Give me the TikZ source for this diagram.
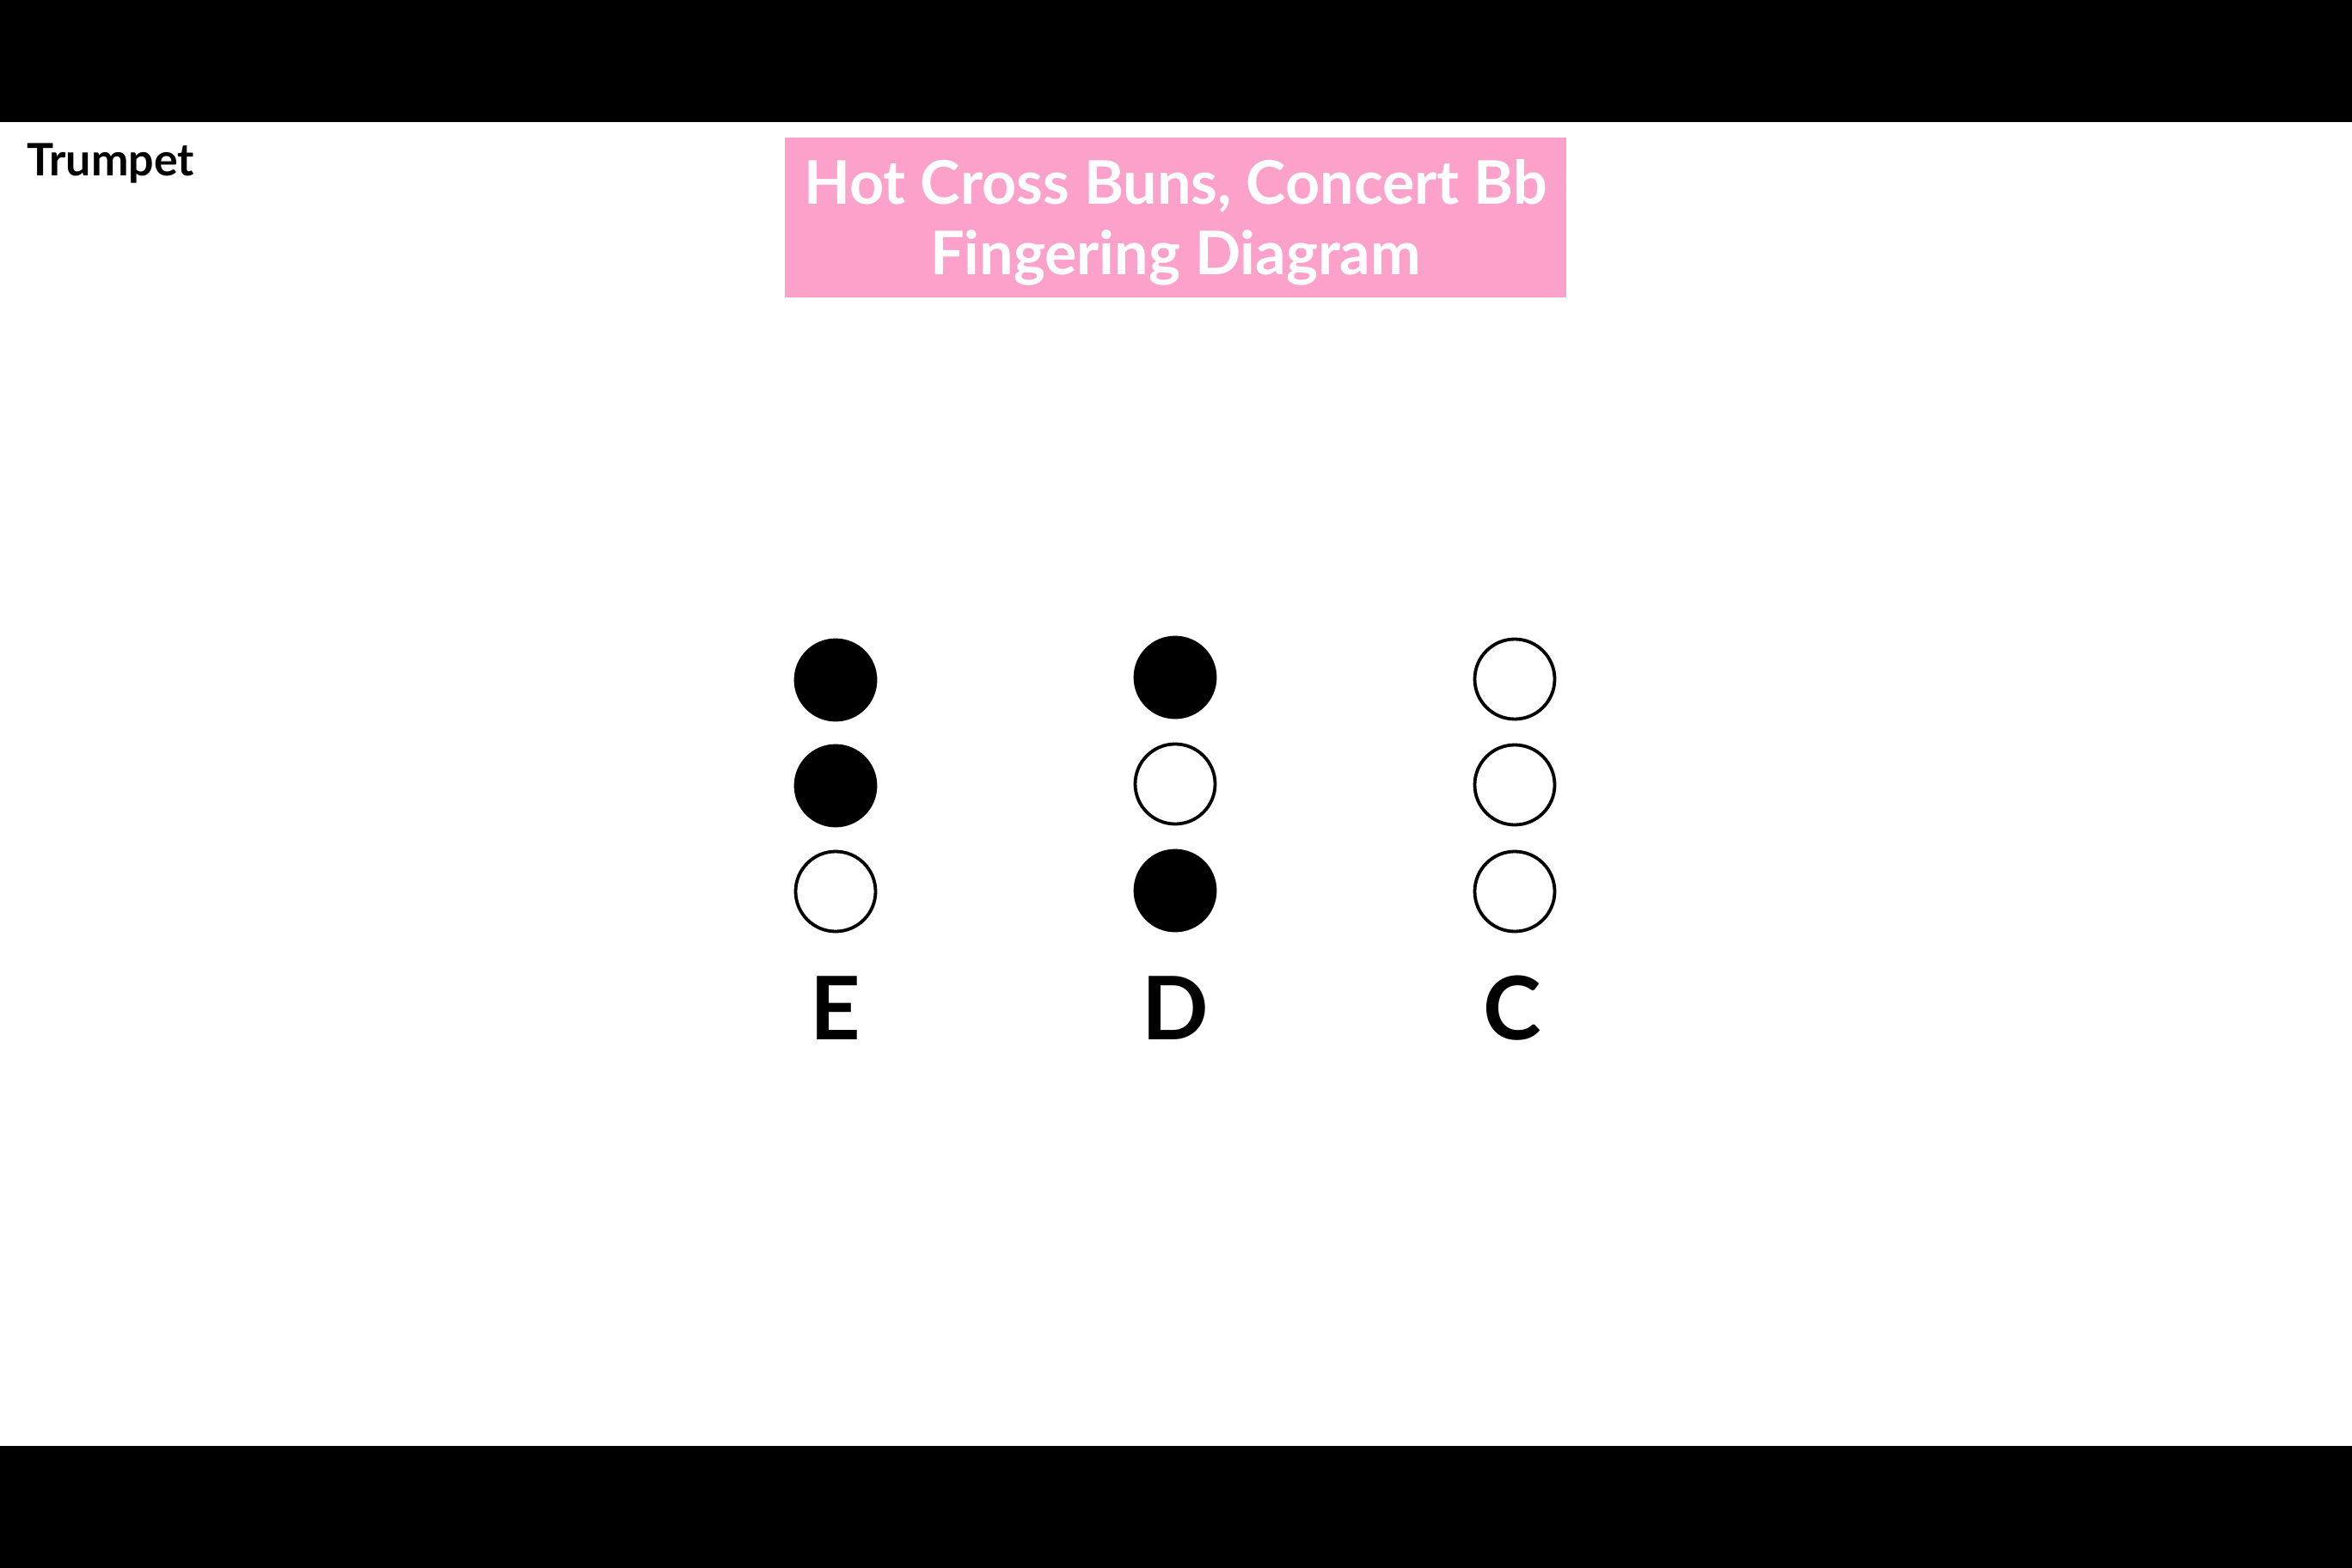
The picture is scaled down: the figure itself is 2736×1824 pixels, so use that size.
\documentclass[tikz,border=0pt]{standalone}
\usepackage{fontspec}
\setmainfont{Lato}
\definecolor{pinkbox}{RGB}{252,161,201}
\begin{document}
\begin{tikzpicture}[x=0.5pt,y=-0.5pt,
  valve/.style={circle,draw=black,line width=1.9pt,minimum size=46.5pt,inner sep=0pt},
  pressed/.style={valve,fill=black},
  open/.style={valve,fill=white},
  notelabel/.style={anchor=base,inner sep=0pt,font=\fontsize{51}{51}\selectfont\bfseries},
  bar/.style={fill=black}]
\useasboundingbox (0,0) rectangle (2736,1824);
\fill[bar] (0,0) rectangle (2736,142);
\fill[bar] (0,1682) rectangle (2736,1824);
\node[anchor=base west,inner sep=0pt,font=\fontsize{26}{26}\selectfont\bfseries] (instr) at (31,205) {Trumpet};
\node[fill=pinkbox,minimum width=454.5pt,minimum height=93pt,inner sep=0pt] (title) at (1367.5,253.5) {};
\node[inner sep=0pt,align=center,text=white,
  font=\fontsize{35}{41}\selectfont\bfseries] (titletext) at (1367.5,259) {Hot Cross Buns, Concert Bb\\Fingering Diagram};
% E
\node[pressed] (e1) at (972,791) {};
\node[pressed] (e2) at (972,914) {};
\node[open] (e3) at (972,1037) {};
\node[notelabel] (eL) at (972,1209) {E};
% D
\node[pressed] (d1) at (1367,788) {};
\node[open] (d2) at (1367,912) {};
\node[pressed] (d3) at (1367,1036) {};
\node[notelabel] (dL) at (1367,1209) {D};
% C
\node[open] (c1) at (1762,790) {};
\node[open] (c2) at (1762,913) {};
\node[open] (c3) at (1762,1037) {};
\node[notelabel] (cL) at (1759,1209) {C};
\end{tikzpicture}
\end{document}
